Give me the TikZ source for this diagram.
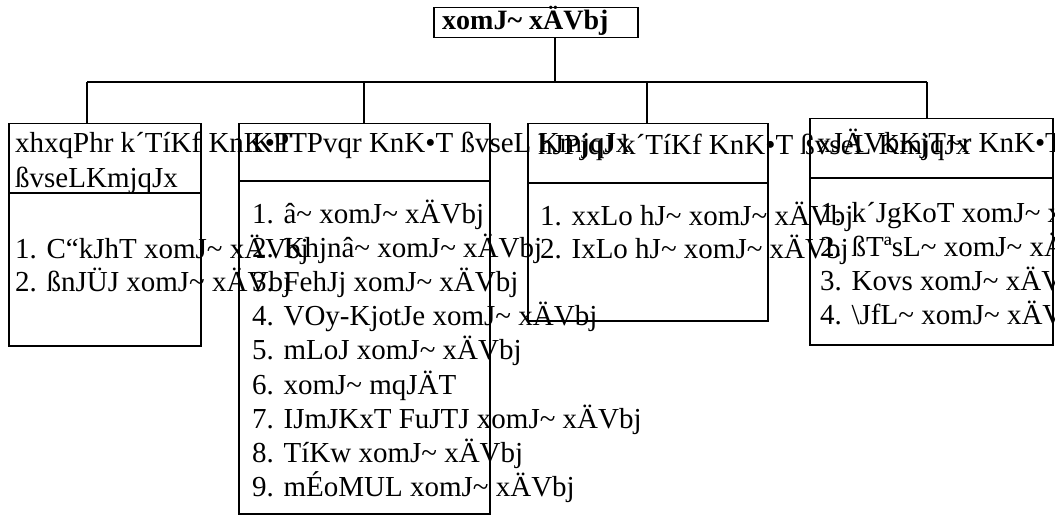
\documentclass[tikz,border=0pt]{standalone}
\usepackage{fontspec}
\setmainfont{Liberation Serif}
\newcommand\tlde{{\char"7E}}
\begin{document}
\begin{tikzpicture}[x=1pt,y=-1pt,
  box/.style={draw, line width=1.5pt, rectangle, inner sep=0pt, anchor=north west},
  sepline/.style={line width=1.5pt},
  conn/.style={line width=1.4pt},
  bus/.style={line width=2.4pt},
  txt/.style={anchor=base west, inner sep=0pt, font=\fontsize{29}{34}\selectfont},
  ttl/.style={anchor=base west, inner sep=0pt, font=\fontsize{28}{34}\selectfont\bfseries}]
\useasboundingbox (0,0) rectangle (1055,516);

% top box
\node[box, minimum width=204pt, minimum height=30pt] (top) at (433,7) {};
\node[ttl] (toptxt) at (442,30) {xomJ\tlde{} xÄVbj};

% boxes
\node[box, minimum width=192pt, minimum height=222pt] (b1) at (8,123) {};
\node[box, minimum width=251pt, minimum height=390pt] (b2) at (238,123) {};
\node[box, minimum width=240pt, minimum height=197pt] (b3) at (527,123) {};
\node[box, minimum width=243pt, minimum height=226pt] (b4) at (809,118) {};

% header separators
\draw[sepline] ([yshift=-70pt]b1.north west) -- ([yshift=-70pt]b1.north east);
\draw[sepline] ([yshift=-58pt]b2.north west) -- ([yshift=-58pt]b2.north east);
\draw[sepline] ([yshift=-60pt]b3.north west) -- ([yshift=-60pt]b3.north east);
\draw[sepline] ([yshift=-60pt]b4.north west) -- ([yshift=-60pt]b4.north east);

% connectors
\coordinate (hub) at (555,82);
\coordinate (d1) at (87,82);
\coordinate (d2) at (364,82);
\coordinate (d3) at (647,82);
\coordinate (d4) at (927,82);
\draw[conn] (hub |- top.south) -- (hub);
\draw[bus] (d1) -- (d4);
\draw[conn] (d1) -- (d1 |- b1.north);
\draw[conn] (d2) -- (d2 |- b2.north);
\draw[conn] (d3) -- (d3 |- b3.north);
\draw[conn] (d4) -- (d4 |- b4.north);

% headers
\node[txt] (h1a) at (15,153) {xhxqPhr k´TíKf KnK•T};
\node[txt] (h1b) at (15,187) {ßvseLKmjqJx};
\node[txt] (h2) at (252,153) {KPTPvqr KnK•T ßvseL KmjqJx};
\node[txt] (h3) at (538,155) {hJPjqJ k´TíKf KnK•T ßvseL KmjqJx};
\node[txt] (h4) at (817,153) {xJÄVbKjT\tlde{}r KnK•T ßvseL KmjqJx};

% box 1 items
\node[txt] (b1i1) at (15,258) {1. C“kJhT xomJ\tlde{} xÄVbj};
\node[txt] (b1i2) at (15,291) {2. ßnJÜJ xomJ\tlde{} xÄVbj};

% box 2 items
\node[txt] (b2i1) at (252,223.0) {1. â\tlde{} xomJ\tlde{} xÄVbj};
\node[txt] (b2i2) at (252,257.2) {2. Khjnâ\tlde{} xomJ\tlde{} xÄVbj};
\node[txt] (b2i3) at (252,291.4) {3. FehJj xomJ\tlde{} xÄVbj};
\node[txt] (b2i4) at (252,325.6) {4. VOy-KjotJe xomJ\tlde{} xÄVbj};
\node[txt] (b2i5) at (252,359.8) {5. mLoJ xomJ\tlde{} xÄVbj};
\node[txt] (b2i6) at (252,394.0) {6. xomJ\tlde{} mqJÄT};
\node[txt] (b2i7) at (252,428.2) {7. IJmJKxT FuJTJ xomJ\tlde{} xÄVbj};
\node[txt] (b2i8) at (252,462.4) {8. TíKw xomJ\tlde{} xÄVbj};
\node[txt] (b2i9) at (252,496.6) {9. mÉoMUL xomJ\tlde{} xÄVbj};

% box 3 items
\node[txt] (b3i1) at (540,225) {1. xxLo hJ\tlde{} xomJ\tlde{} xÄVbj};
\node[txt] (b3i2) at (540,258) {2. IxLo hJ\tlde{} xomJ\tlde{} xÄVbj};

% box 4 items
\node[txt] (b4i1) at (820,222) {1. k´JgKoT xomJ\tlde{} xÄVbj};
\node[txt] (b4i2) at (820,256) {2. ßTªsL\tlde{} xomJ\tlde{} xÄVbj};
\node[txt] (b4i3) at (820,290) {3. Kovs xomJ\tlde{} xÄVbj};
\node[txt] (b4i4) at (820,324) {4. \textbackslash JfL\tlde{} xomJ\tlde{} xÄVbj};
\end{tikzpicture}
\end{document}
